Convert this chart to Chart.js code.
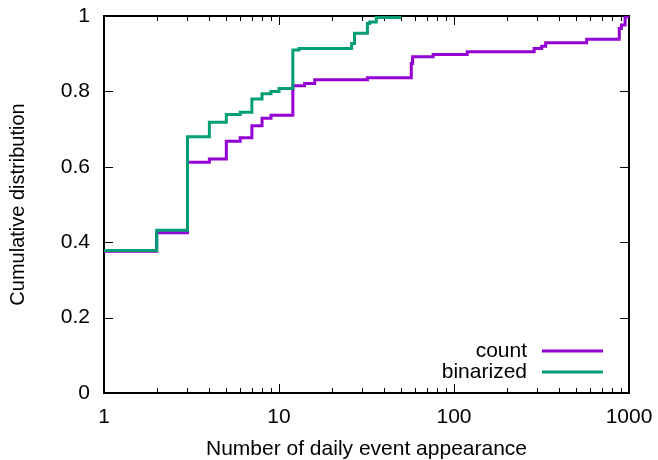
<!DOCTYPE html>
<html>
<head>
<meta charset="utf-8">
<script src="https://cdn.jsdelivr.net/npm/chart.js@4"></script>
<style>
  body { margin: 0; background: #fff; }
  #wrap { width: 658px; height: 460px; position: relative; }
</style>
</head>
<body>
<div id="wrap"><canvas id="cdf"></canvas></div>
<script>
// values
const countX = [1, 2, 3, 4, 5, 6, 7, 8, 9, 12, 14, 16, 32, 57, 58, 76, 119, 287, 317, 334, 573, 880, 905, 950, 1000];
const countY = [0.376, 0.425, 0.612, 0.621, 0.668, 0.677, 0.709, 0.729, 0.737, 0.815, 0.821, 0.831, 0.836, 0.874, 0.892, 0.898, 0.905, 0.914, 0.920, 0.929, 0.938, 0.967, 0.976, 0.998, 1.0];
const binX = [1, 2, 3, 4, 5, 6, 7, 8, 9, 10, 12, 13, 26, 27, 32, 33, 36, 49];
const binY = [0.378, 0.432, 0.680, 0.718, 0.739, 0.745, 0.780, 0.794, 0.800, 0.808, 0.910, 0.914, 0.927, 0.954, 0.980, 0.984, 0.996, 1.0];
const xTicks = [1, 10, 100, 1000];
const yTicks = [0, 0.2, 0.4, 0.6, 0.8, 1];

const FONT = "'Liberation Sans', Arial, sans-serif";
const toPoints = (xs, ys) => xs.map((v, i) => ({ x: v, y: ys[i] }));

// gnuplot style frame: inward ticks on all four sides, border, legend
const frame = {
	id: "frame",
	beforeDatasetsDraw(chart) {
		const { ctx, chartArea: a, scales: { x, y } } = chart;
		ctx.save();
		ctx.strokeStyle = "#000";
		ctx.lineWidth = 1;
		ctx.beginPath();
		for (let d = 1; d < 1000; d *= 10) {
			for (let m = 1; m <= 10; m++) {
				const px = Math.round(x.getPixelForValue(d * m)) + 0.5;
				const len = m === 1 || m === 10 ? 9 : 5;
				ctx.moveTo(px, a.bottom); ctx.lineTo(px, a.bottom - len);
				ctx.moveTo(px, a.top); ctx.lineTo(px, a.top + len);
			}
		}
		yTicks.forEach(v => {
			const py = Math.round(y.getPixelForValue(v)) + 0.5;
			ctx.moveTo(a.left, py); ctx.lineTo(a.left + 9, py);
			ctx.moveTo(a.right, py); ctx.lineTo(a.right - 9, py);
		});
		ctx.stroke();
		ctx.lineWidth = 2;
		ctx.strokeRect(a.left, a.top, a.right - a.left, a.bottom - a.top);
		ctx.restore();
	},
	afterDatasetsDraw(chart) {
		const { ctx } = chart;
		ctx.save();
		ctx.font = "21px " + FONT;
		ctx.textAlign = "right";
		ctx.textBaseline = "middle";
		ctx.fillStyle = "#000";
		chart.data.datasets.forEach((ds, i) => {
			const ly = 351 + i * 21;
			ctx.fillText(ds.label, 527, ly);
			ctx.strokeStyle = ds.borderColor;
			ctx.lineWidth = 3;
			ctx.beginPath();
			ctx.moveTo(542, ly); ctx.lineTo(603, ly);
			ctx.stroke();
		});
		ctx.restore();
	}
};

new Chart(document.getElementById("cdf"), {
	type: "line",
	data: {
		datasets: [
			{
				label: "count",
				data: toPoints(countX, countY),
				borderColor: "#9400d3",
				borderWidth: 3,
				stepped: true,
				pointRadius: 0,
				fill: false,
				order: 2,
			},
			{
				label: "binarized",
				data: toPoints(binX, binY),
				borderColor: "#009e73",
				borderWidth: 3,
				stepped: true,
				pointRadius: 0,
				fill: false,
				order: 1,
			},
		],
	},
	options: {
		responsive: true,
		maintainAspectRatio: false,
		animation: false,
		layout: { autoPadding: false, padding: { top: 16, right: 29, left: 0, bottom: 0 } },
		plugins: {
			legend: { display: false },
			tooltip: { enabled: false },
		},
		scales: {
			x: {
				type: "logarithmic",
				min: 1,
				max: 1000,
				grid: { display: false, drawTicks: false },
				border: { display: false },
				afterBuildTicks: s => { s.ticks = xTicks.map(v => ({ value: v })); },
				afterFit: s => { s.height = 67; s.paddingLeft = 0; s.paddingRight = 0; },
				ticks: {
					padding: 12,
					autoSkip: false,
					maxRotation: 0,
					color: "#000",
					font: { family: FONT, size: 21 },
					callback: v => String(v),
				},
				title: {
					display: true,
					text: "Number of daily event appearance",
					color: "#000",
					font: { family: FONT, size: 21 },
					padding: { top: 0, bottom: -2 },
				},
			},
			y: {
				min: 0,
				max: 1,
				grid: { display: false, drawTicks: false },
				border: { display: false },
				afterBuildTicks: s => { s.ticks = yTicks.map(v => ({ value: v })); },
				afterFit: s => { s.width = 104; s.paddingTop = 0; s.paddingBottom = 0; },
				ticks: {
					padding: 14,
					color: "#000",
					font: { family: FONT, size: 21 },
					callback: v => String(v),
				},
				title: {
					display: true,
					text: "Cumulative distribution",
					color: "#000",
					font: { family: FONT, size: 20 },
					padding: { top: 6, bottom: 0 },
				},
			},
		},
	},
	plugins: [frame],
});
</script>
</body>
</html>
